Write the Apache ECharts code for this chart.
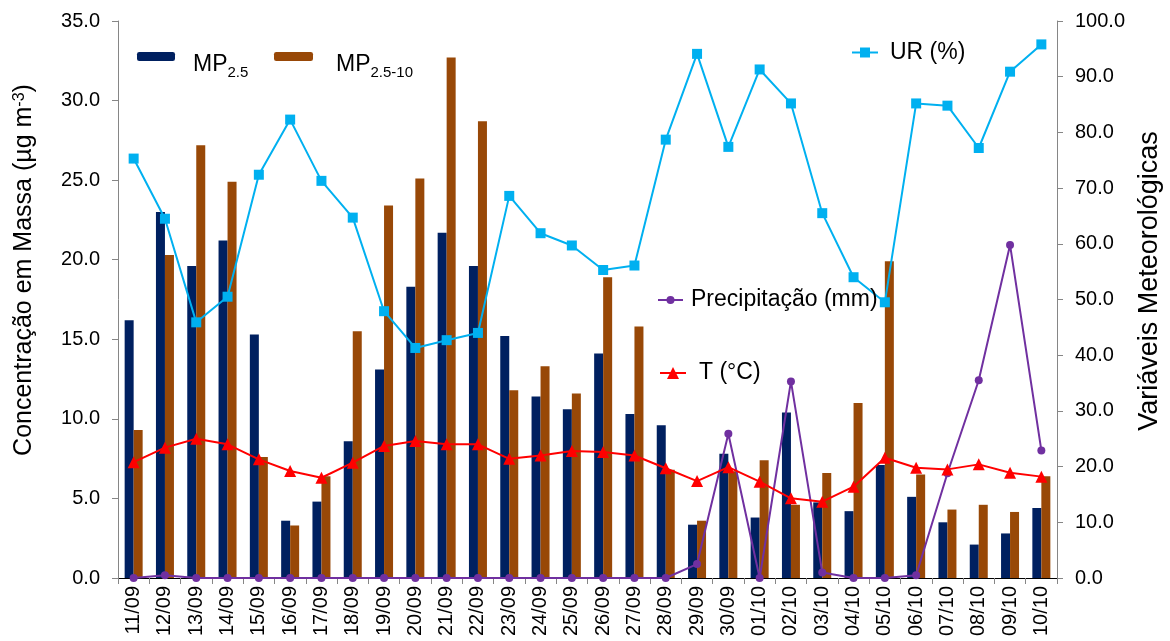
<!DOCTYPE html>
<html>
<head>
<meta charset="utf-8">
<script src="https://cdn.jsdelivr.net/npm/echarts@6/dist/echarts.min.js"></script>
<style>
html,body{margin:0;padding:0;background:#fff;}
#chart{width:1170px;height:641px;}
</style>
</head>
<body>
<div id="chart"></div>
<script>
const categories = ['11/09','12/09','13/09','14/09','15/09','16/09','17/09','18/09','19/09','20/09',
  '21/09','22/09','23/09','24/09','25/09','26/09','27/09','28/09','29/09','30/09',
  '01/10','02/10','03/10','04/10','05/10','06/10','07/10','08/10','09/10','10/10'];
const mp25 = [16.2,23.0,19.6,21.2,15.3,3.6,4.8,8.6,13.1,18.3,21.7,19.6,15.2,11.4,10.6,14.1,10.3,9.6,3.35,7.8,3.8,10.4,4.75,4.2,7.1,5.1,3.5,2.1,2.8,4.4];
const mp2510 = [9.3,20.3,27.2,24.9,7.6,3.3,6.4,15.5,23.4,25.1,32.7,28.7,11.8,13.3,11.6,18.9,15.8,6.8,3.6,6.7,7.4,4.6,6.6,11.0,19.9,6.5,4.3,4.6,4.15,6.4];
const ur = [75.3,64.5,45.9,50.5,72.4,82.3,71.3,64.7,47.9,41.3,42.7,44.0,68.6,61.9,59.7,55.3,56.1,78.7,94.1,77.4,91.3,85.2,65.5,54.0,49.5,85.2,84.8,77.2,90.9,95.8];
const precip = [0,0.5,0,0,0,0,0,0,0,0,0,0,0,0,0,0,0,0,2.5,25.9,0,35.3,1.0,0,0,0.5,18.8,35.5,59.8,22.9];
const temp = [20.8,23.4,25.0,24.0,21.3,19.2,18.0,20.7,23.7,24.6,24.0,24.0,21.4,22.0,22.8,22.6,22.0,19.7,17.4,19.9,17.3,14.3,13.7,16.4,21.6,19.8,19.5,20.4,18.9,18.2];
const leftTicks = {min:0, max:35, interval:5};
const rightTicks = {min:0, max:100, interval:10};

const FONT = 'Liberation Sans, Arial, sans-serif';
const AXIS_GRAY = '#868686';
const C_NAVY = '#002060', C_BROWN = '#984807', C_UR = '#00B0F0', C_PR = '#7030A0', C_T = '#FF0000';

const chart = echarts.init(document.getElementById('chart'), null, {renderer:'canvas'});

const subRich = {
  m:{fontSize:23, verticalAlign:'bottom', padding:[0,0,4,0], fontFamily:FONT, color:'#000'},
  s:{fontSize:15, verticalAlign:'bottom', fontFamily:FONT, color:'#000'}
};
function mkLegend(name, left, top, w, h, pad, rich){
  const l = {
    data:[name], left:left, top:top, padding:0, itemWidth:w, itemHeight:h,
    selectedMode:false,
    textStyle:{fontSize:23, fontFamily:FONT, color:'#000', padding:pad}
  };
  if (rich) {
    l.textStyle.rich = subRich;
    l.formatter = rich;
  }
  return l;
}

const option = {
  animation:false,
  backgroundColor:'#fff',
  grid:{left:118, right:113, top:21, bottom:63},
  legend:[
    mkLegend('MP2.5', 137, 52, 38, 9, [20,0,0,13], () => '{m|MP}{s|2.5}'),
    mkLegend('MP2.5-10', 274, 52, 39, 9, [20,0,0,18], () => '{m|MP}{s|2.5-10}'),
    mkLegend('UR (%)', 851, 41, 26, 12.5, [0,0,11,7]),
    mkLegend('Precipitação (mm)', 657, 288.5, 25, 10, [0,0,0,3]),
    mkLegend('T (°C)', 659, 361.5, 26, 15, [0,0,0,8])
  ],
  xAxis:[{
    type:'category', data:categories, position:'bottom',
    axisLine:{show:true, lineStyle:{color:AXIS_GRAY, width:1}},
    axisTick:{show:true, length:6, inside:false, lineStyle:{color:AXIS_GRAY}},
    axisLabel:{rotate:90, interval:0, fontSize:20, fontFamily:FONT, color:'#000', margin:8},
    splitLine:{show:false}
  },{
    type:'category', data:categories, position:'top',
    axisLine:{show:true, lineStyle:{color:'#000', width:1}},
    axisTick:{show:false}, axisLabel:{show:false}, splitLine:{show:false}
  }],
  yAxis:[{
    type:'value', position:'left', min:leftTicks.min, max:leftTicks.max, interval:leftTicks.interval,
    axisLine:{show:true, lineStyle:{color:AXIS_GRAY}},
    axisTick:{show:true, length:6, lineStyle:{color:AXIS_GRAY}},
    axisLabel:{fontSize:20, fontFamily:FONT, color:'#000', margin:18, formatter:v=>v.toFixed(1)},
    splitLine:{show:false}
  },{
    type:'value', position:'right', min:rightTicks.min, max:rightTicks.max, interval:rightTicks.interval,
    axisLine:{show:true, lineStyle:{color:AXIS_GRAY}},
    axisTick:{show:true, length:6, lineStyle:{color:AXIS_GRAY}},
    axisLabel:{fontSize:20, fontFamily:FONT, color:'#000', margin:18, formatter:v=>v.toFixed(1)},
    splitLine:{show:false}
  }],
  series:[
    {name:'MP2.5', type:'bar', data:mp25, yAxisIndex:0, barWidth:9, barGap:'0%',
      itemStyle:{color:C_NAVY}},
    {name:'MP2.5-10', type:'bar', data:mp2510, yAxisIndex:0, barWidth:9, barGap:'0%',
      itemStyle:{color:C_BROWN}},
    {name:'UR (%)', type:'line', data:ur, yAxisIndex:1, symbol:'rect', symbolSize:10,
      showAllSymbol:true, lineStyle:{color:C_UR, width:2}, itemStyle:{color:C_UR}},
    {name:'Precipitação (mm)', type:'line', data:precip, yAxisIndex:1, symbol:'circle', symbolSize:8,
      showAllSymbol:true, lineStyle:{color:C_PR, width:2}, itemStyle:{color:C_PR}},
    {name:'T (°C)', type:'line', data:temp, yAxisIndex:1, symbol:'triangle', symbolSize:12,
      showAllSymbol:true, lineStyle:{color:C_T, width:2}, itemStyle:{color:C_T}}
  ],
  graphic:[
    {type:'text', x:24, y:270, rotation:Math.PI/2,
      style:{text:'{a|Concentração em Massa (µg m}{s|-3}{a|)}', align:'center', verticalAlign:'middle',
        rich:{a:{fontSize:25, lineHeight:25, verticalAlign:'bottom', fontFamily:FONT, fill:'#000', color:'#000'},
              s:{fontSize:16, lineHeight:16, verticalAlign:'top', fontFamily:FONT, fill:'#000', color:'#000'}}}},
    {type:'text', x:1150, y:281, rotation:Math.PI/2,
      style:{text:'Variáveis Meteorológicas', align:'center', verticalAlign:'middle',
        fontSize:27, fontFamily:FONT, fill:'#000'}}
  ]
};
chart.setOption(option);
</script>
</body>
</html>
